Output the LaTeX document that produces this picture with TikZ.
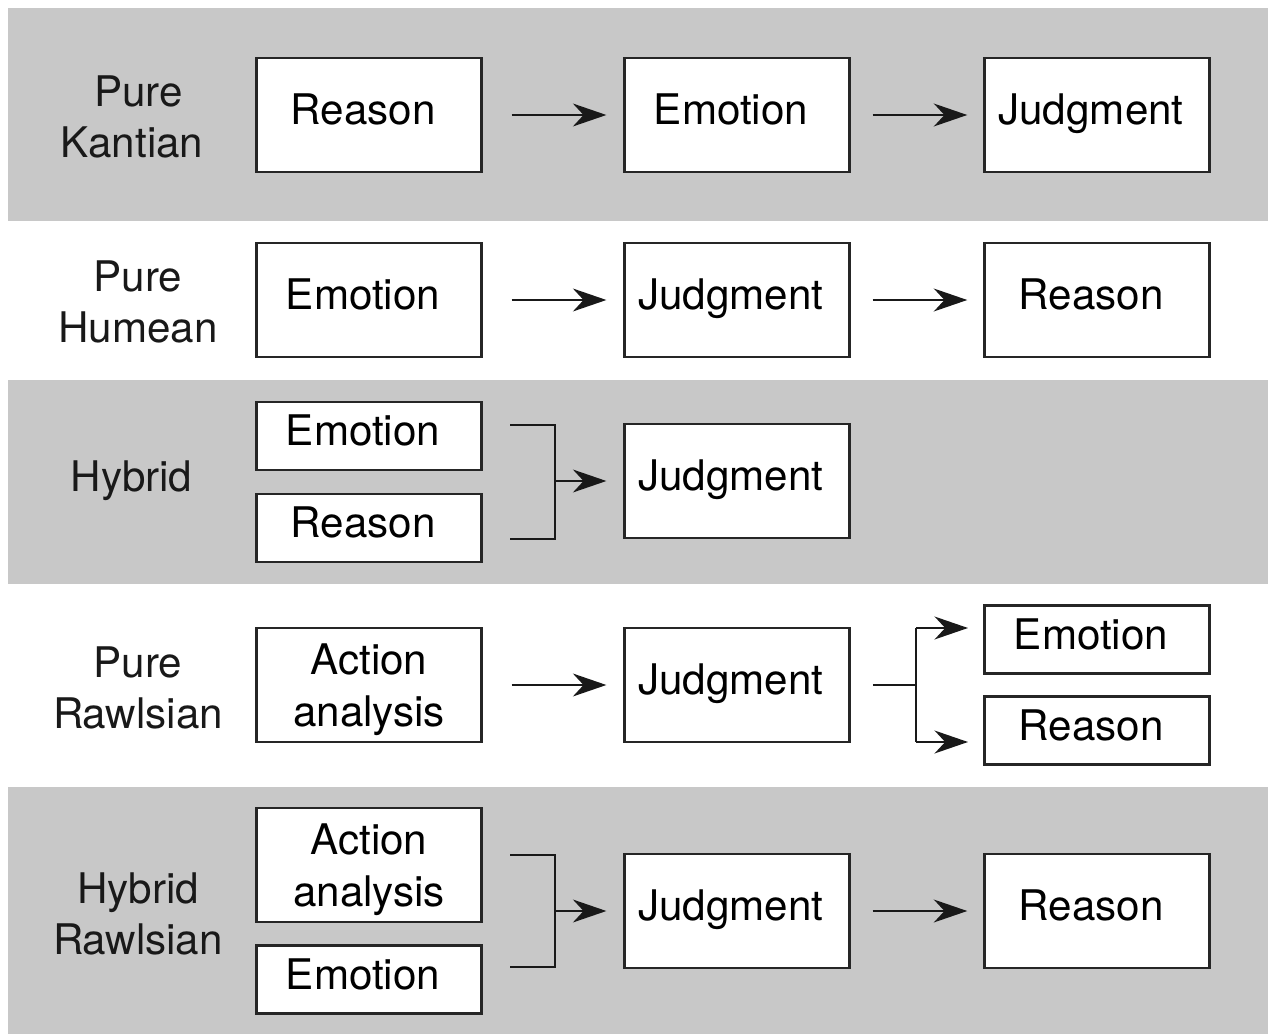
\documentclass[tikz,border=0pt]{standalone}
\usepackage{fontspec}
\setmainfont{TeX Gyre Heros}
\usetikzlibrary{arrows.meta,calc}
\definecolor{bandgray}{HTML}{C8C8C8}
\begin{document}
\begin{tikzpicture}[x=0.02cm,y=-0.02cm,
  every node/.style={font=\fontsize{24}{29.5}\selectfont, align=center, inner sep=0pt},
  boxbase/.style={draw=black!85, line width=1.35pt, fill=white, minimum width=226*0.567pt},
  oneline/.style={text height=17.2pt, text depth=5.9pt, execute at end node={\hspace*{6.8pt}}},
  bigbox/.style={boxbase, oneline, minimum height=114*0.567pt},
  twobox/.style={boxbase, minimum height=114*0.567pt},
  smallbox/.style={boxbase, oneline, minimum height=68*0.567pt},
  rowlabel/.style={text=black!90},
  band/.style={fill=bandgray, draw=none},
  conn/.style={line width=1.3pt, draw=black!90},
  arr/.style={conn, -{Stealth[length=19pt, width=13pt, inset=6pt]}},
  gapa/.style={arr, shorten <=16.4pt, shorten >=9.6pt},
  gapb/.style={arr, shorten <=12.5pt, shorten >=9.1pt}
]
\useasboundingbox (0,0) rectangle (1268,1034);
\fill[white] (0,0) rectangle (1268,1034);
% bands
\path[band] (8,8) rectangle (1268,221);
\path[band] (8,380) rectangle (1268,584);
\path[band] (8,787) rectangle (1268,1034);

% row 1
\node[rowlabel] (l1) at (138.5,117) {Pure\\Kantian\hspace*{7.4pt}};
\node[bigbox] (r1a) at (369,115) {Reason};
\node[bigbox] (r1b) at (737,115) {Emotion};
\node[bigbox] (r1c) at (1097,115) {Judgment};
\draw[gapa] (r1a) -- (r1b);
\draw[gapb] (r1b) -- (r1c);

% row 2
\node[rowlabel] (l2) at (138,302) {Pure\\Humean};
\node[bigbox] (r2a) at (369,300) {Emotion};
\node[bigbox] (r2b) at (737,300) {Judgment};
\node[bigbox] (r2c) at (1097,300) {Reason};
\draw[gapa] (r2a) -- (r2b);
\draw[gapb] (r2b) -- (r2c);

% row 3
\node[rowlabel] (l3) at (131.5,481) {Hybrid};
\node[smallbox] (r3a) at (369,436) {Emotion};
\node[smallbox] (r3r) at (369,528) {Reason};
\node[bigbox] (r3b) at (737,481) {Judgment};
\coordinate (b3t) at (510,425);
\coordinate (b3tc) at (555,425);
\coordinate (b3bc) at (555,539);
\coordinate (b3b) at (510,539);
\coordinate (b3m) at (555,481);
\draw[conn] (b3t) -- (b3tc) -- (b3bc) -- (b3b);
\draw[arr, shorten >=9.6pt] (b3m) -- (r3b.west);

% row 4
\node[rowlabel] (l4) at (138,688) {Pure\\Rawlsian};
\node[twobox] (r4a) at (369,685) {\rule{0pt}{23.2pt}Action\\analysis};
\node[bigbox] (r4b) at (737,685) {Judgment};
\node[smallbox] (r4e) at (1097,639.5) {Emotion};
\node[smallbox] (r4r) at (1097,730.5) {Reason};
\draw[gapa] (r4a) -- (r4b);
\coordinate (f4s) at ($(r4b.east)+(22,0)$);
\coordinate (f4m) at (916,685);
\coordinate (f4t) at (916,628);
\coordinate (f4b) at (916,742);
\coordinate (f4te) at (968,628);
\coordinate (f4be) at (968,742);
\draw[conn] (f4s) -- (f4m);
\draw[conn] (f4t) -- (f4b);
\draw[arr] (f4t) -- (f4te);
\draw[arr] (f4b) -- (f4be);

% row 5
\node[rowlabel] (l5) at (138,914) {Hybrid\\Rawlsian};
\node[twobox] (r5a) at (369,865) {\rule{0pt}{23.2pt}Action\\analysis};
\node[smallbox] (r5e) at (369,979.5) {Emotion};
\node[bigbox] (r5b) at (737,911) {Judgment};
\node[bigbox] (r5c) at (1097,911) {Reason};
\coordinate (b5t) at (510,855);
\coordinate (b5tc) at (555,855);
\coordinate (b5bc) at (555,967);
\coordinate (b5b) at (510,967);
\coordinate (b5m) at (555,911);
\draw[conn] (b5t) -- (b5tc) -- (b5bc) -- (b5b);
\draw[arr, shorten >=9.6pt] (b5m) -- (r5b.west);
\draw[gapb] (r5b) -- (r5c);
\end{tikzpicture}
\end{document}
